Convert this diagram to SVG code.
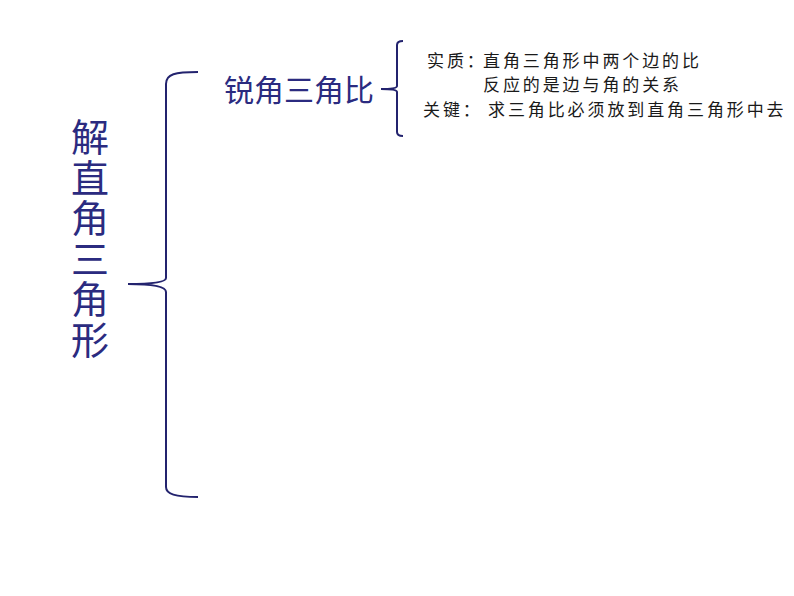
<svg xmlns="http://www.w3.org/2000/svg" width="794" height="596" viewBox="0 0 794 596">
<style>
.big{font-family:"Noto Sans CJK SC","Liberation Sans",sans-serif;fill:#2B2B80;}
.vert{writing-mode:vertical-rl;letter-spacing:2.5px;}
.small{font-family:"Noto Sans CJK SC","Liberation Sans",sans-serif;font-size:17px;letter-spacing:2.9px;fill:#1a1a1a;}
.brace{fill:none;stroke:#23236E;stroke-width:2;}
</style>
<rect width="794" height="596" fill="#ffffff"/>
<g id="connectors">
<path class="brace" d="M198,72 C175,72 166,74 166,84 L166,278 C166,282 155,284 128,284 C155,284 166,287 166,292 L166,487 C166,494 175,497 198,497"/>
<path class="brace" d="M403,41 C399,41 397,42 397,45 L397,86 C397,88 392,89 381,89 C392,89 397,90 397,92 L397,132 C397,135 399,136 403,136"/>
</g>
<g id="root">
<text class="big vert" font-size="38" x="90" y="118">解直角三角形</text>
</g>
<g id="acute-ratio">
<text class="big" font-size="30" x="224" y="101">锐角三角比</text>
</g>
<g id="details">
<text class="small" x="427" y="67">实质：</text>
<text class="small" x="483" y="67">直角三角形中两个边的比</text>
<text class="small" x="483" y="91">反应的是边与角的关系</text>
<text class="small" x="423" y="116">关键：</text>
<text class="small" x="488" y="116">求三角比必须放到直角三角形中去</text>
</g>
</svg>
